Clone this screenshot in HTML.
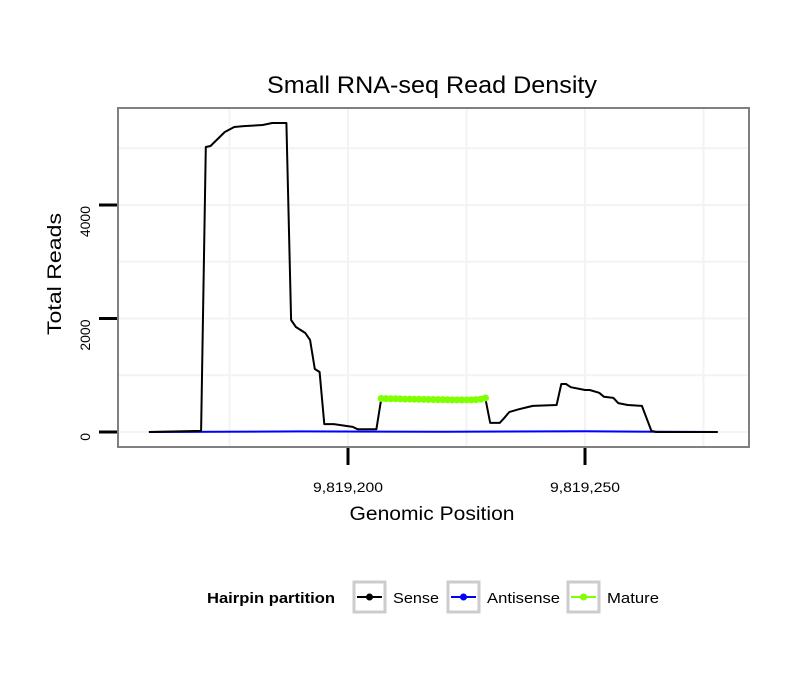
<!DOCTYPE html>
<html><head><meta charset="utf-8"><style>
body{margin:0;background:#fff;}
svg{display:block;font-family:"Liberation Sans",sans-serif;}
</style></head><body>
<svg id="chart" width="810" height="690">
<rect width="810" height="690" fill="#fff"/>
<text x="432" y="93" font-size="24" text-anchor="middle" textLength="330" lengthAdjust="spacingAndGlyphs">Small RNA-seq Read Density</text>
<g id="grid"></g>
<g id="series"></g>
<rect x="118" y="108" width="631" height="339" fill="none" stroke="#808080" stroke-width="2"/>
<g id="axes"></g>
<text x="432" y="520" font-size="19" text-anchor="middle" textLength="165" lengthAdjust="spacingAndGlyphs">Genomic Position</text>
<text transform="translate(61,274) rotate(-90)" font-size="19" text-anchor="middle" textLength="122" lengthAdjust="spacingAndGlyphs">Total Reads</text>
<g>
<text x="207" y="603" font-size="15" font-weight="bold" textLength="128" lengthAdjust="spacingAndGlyphs">Hairpin partition</text>
<g>
<rect x="354" y="582" width="31" height="30" fill="#fff" stroke="#ccc" stroke-width="3"/>
<line x1="357" y1="597" x2="382" y2="597" stroke="#000" stroke-width="2"/><circle cx="369.5" cy="597" r="3.5" fill="#000"/>
<text x="393" y="603" font-size="15" textLength="46" lengthAdjust="spacingAndGlyphs">Sense</text></g>
<g>
<rect x="448" y="582" width="31" height="30" fill="#fff" stroke="#ccc" stroke-width="3"/>
<line x1="451" y1="597" x2="476" y2="597" stroke="#0000ff" stroke-width="2"/><circle cx="463.5" cy="597" r="3.5" fill="#0000ff"/>
<text x="487" y="603" font-size="15" textLength="73" lengthAdjust="spacingAndGlyphs">Antisense</text></g>
<g>
<rect x="568" y="582" width="31" height="30" fill="#fff" stroke="#ccc" stroke-width="3"/>
<line x1="571" y1="597" x2="596" y2="597" stroke="#7fff00" stroke-width="2"/><circle cx="583.5" cy="597" r="3.5" fill="#7fff00"/>
<text x="607" y="603" font-size="15" textLength="52" lengthAdjust="spacingAndGlyphs">Mature</text></g>
</g>
</svg>
<script>
const sensePos=[9819158,9819164,9819169,9819170,9819171,9819174,9819176,9819178,9819182,9819184,9819187,9819188,9819189,9819191,9819192,9819193,9819194,9819195,9819197,9819201,9819202,9819206,9819207,9819229,9819230,9819232,9819233,9819234,9819236,9819238,9819239,9819244,9819245,9819246,9819247,9819250,9819251,9819253,9819254,9819256,9819257,9819259,9819262,9819264,9819265,9819278];
const senseVals=[0,10,20,5022,5040,5286,5374,5390,5410,5445,5445,1973,1850,1745,1620,1110,1057,140,140,90,50,50,580,580,160,160,250,350,400,440,460,475,845,845,790,740,740,690,620,600,510,475,460,20,0,0];
const antiPos=[9819158,9819190,9819220,9819250,9819278];
const antiVals=[0,10,5,12,0];
const maturePos=[9819207,9819208,9819209,9819210,9819211,9819212,9819213,9819214,9819215,9819216,9819217,9819218,9819219,9819220,9819221,9819222,9819223,9819224,9819225,9819226,9819227,9819228,9819229];
const matureVals=[590,588,585,585,583,580,580,578,576,575,573,572,570,570,568,566,565,565,565,566,570,578,600];
const yTicks=[0,2000,4000];
const yGrid=[0,1000,2000,3000,4000,5000];
const xTicks=[9819200,9819250];
const xTickLabels=["9,819,200","9,819,250"];
const xGrid=[9819175,9819200,9819225,9819250,9819275];

const X=p=>348+(p-9819200)*4.74;
const Y=v=>432-v*0.05675;
const NS="http://www.w3.org/2000/svg";
function mk(tag,attrs,parent){const e=document.createElementNS(NS,tag);for(const k in attrs)e.setAttribute(k,attrs[k]);parent.appendChild(e);return e;}
const grid=document.getElementById('grid'),ser=document.getElementById('series'),ax=document.getElementById('axes');
yGrid.forEach(v=>{const l=mk('line',{x1:119,x2:748,y1:Y(v),y2:Y(v),stroke:'#f3f3f3','stroke-width':2},grid);

});
xGrid.forEach(p=>{const l=mk('line',{x1:X(p),x2:X(p),y1:109,y2:446,stroke:'#f3f3f3','stroke-width':2},grid);

});
function line(pos,vals,color,name,w){
 const d=pos.map((p,i)=>(i?'L':'M')+X(p).toFixed(1)+','+Y(vals[i]).toFixed(1)).join(' ');
 const e=mk('path',{d:d,fill:'none',stroke:color,'stroke-width':w,'stroke-linejoin':'round'},ser);
 
 
}
line(antiPos,antiVals,'#0000ff','antisense-line',2);
line(sensePos,senseVals,'#000','sense-line',2);
line(maturePos,matureVals,'#7fff00','mature-line',5);
maturePos.forEach((p,i)=>{const c=mk('circle',{cx:X(p),cy:Y(matureVals[i]),r:3.5,fill:'#7fff00'},ser);

});
yTicks.forEach(v=>{const t=mk('line',{x1:99,x2:117,y1:Y(v),y2:Y(v),stroke:'#000','stroke-width':3},ax);


const tx=mk('text',{transform:`translate(90,${Y(v)+1}) rotate(-90)`,'font-size':14,'text-anchor':'end'},ax);tx.textContent=String(v);

});
xTicks.forEach((p,i)=>{const t=mk('line',{x1:X(p),x2:X(p),y1:448,y2:465,stroke:'#000','stroke-width':3},ax);


const tx=mk('text',{x:X(p),y:492,'font-size':14,'text-anchor':'middle',textLength:70,lengthAdjust:'spacingAndGlyphs'},ax);tx.textContent=xTickLabels[i];

});
</script>
</body></html>
